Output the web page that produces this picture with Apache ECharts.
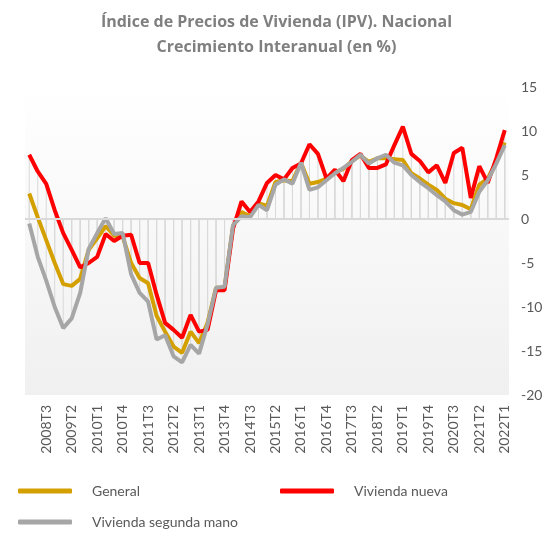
<!DOCTYPE html>
<html>
<head>
<meta charset="utf-8">
<script src="https://cdn.jsdelivr.net/npm/echarts@6/dist/echarts.min.js"></script>
<style>
  html, body { margin: 0; padding: 0; background: #fff; }
  #chart { width: 553px; height: 533px; }
</style>
</head>
<body>
<div id="chart"></div>
<script>
// trimestres 2008T1 .. 2022T1
const years = [];
for (let y = 2008; y <= 2022; y++) years.push(y);
const quarters = [];
years.forEach(y => {
  for (let q = 1; q <= 4; q++) {
    if (y === 2022 && q > 1) break;
    quarters.push(y + 'T' + q);
  }
});

const general = [
  2.9, 0.2, -2.4, -5.0, -7.4, -7.6, -6.8, -3.5, -2.2, -0.8,
  -1.9, -2.0, -5.0, -6.7, -7.3, -11.0, -12.8, -14.5, -15.2, -12.8,
  -14.1, -11.8, -7.8, -7.8, -0.8, 0.8, 0.3, 1.8, 1.5, 4.2,
  4.4, 4.3, 6.4, 4.0, 4.2, 4.6, 5.3, 5.7, 6.6, 7.2,
  6.5, 6.9, 6.9, 6.8, 6.7, 5.2, 4.6, 3.9, 3.3, 2.3,
  1.8, 1.6, 1.1, 3.9, 4.6, 6.5, 8.7
];
const nueva = [
  7.3, 5.4, 4.0, 1.0, -1.6, -3.5, -5.5, -5.0, -4.3, -1.7,
  -2.5, -1.9, -1.8, -5.0, -5.0, -8.6, -11.8, -12.6, -13.5, -10.9,
  -12.8, -12.6, -8.1, -8.1, -1.1, 2.0, 0.8, 2.0, 4.1, 5.0,
  4.5, 5.8, 6.3, 8.5, 7.4, 4.6, 5.6, 4.3, 6.7, 7.4,
  5.8, 5.8, 6.2, 8.4, 10.5, 7.4, 6.6, 5.3, 6.1, 4.1,
  7.5, 8.1, 2.4, 6.0, 4.1, 6.9, 10.1
];
const segunda = [
  -0.5, -4.3, -7.0, -10.0, -12.4, -11.3, -8.4, -3.4, -1.6, 0.1,
  -1.7, -1.6, -6.3, -8.4, -9.4, -13.7, -13.2, -15.6, -16.3, -14.3,
  -15.3, -12.0, -7.8, -7.7, -0.7, 0.3, 0.2, 1.6, 1.0, 3.9,
  4.5, 4.0, 6.4, 3.3, 3.6, 4.4, 5.2, 5.8, 6.5, 7.3,
  6.3, 6.9, 7.3, 6.4, 6.1, 5.0, 4.2, 3.5, 2.7, 2.0,
  1.0, 0.5, 0.8, 3.1, 4.4, 6.3, 8.4
];

const FONT = 'Lato';
const TXT = '#595959';

let chartObj = echarts.init(document.getElementById('chart'));

// lineas de caida (drop lines) hasta el eje
function dropLine(name, data) {
  return {
    name: name,
    type: 'bar',
    data: data,
    barWidth: 1,
    barGap: '-100%',
    itemStyle: { color: '#d9d9d9' },
    silent: true,
    z: 1
  };
}

function serie(name, data, color) {
  return {
    name: name,
    type: 'line',
    data: data,
    symbol: 'none',
    lineStyle: { color: color, width: 4 },
    itemStyle: { color: color },
    z: 3
  };
}

function legendAt(name, left, top) {
  return {
    data: [name],
    left: left,
    top: top,
    itemWidth: 54,
    itemHeight: 5,
    icon: 'roundRect',
    selectedMode: false,
    textStyle: { fontFamily: FONT, fontSize: 14, color: TXT, padding: [0, 0, 0, 15] }
  };
}

let options = {
  animation: false,
  title: {
    text: 'Índice de Precios de Vivienda (IPV). Nacional\nCrecimiento Interanual (en %)',
    left: 'center',
    top: 5,
    textStyle: {
      fontFamily: 'Open Sans',
      fontSize: 16,
      fontWeight: 'bold',
      color: '#7f7f7f',
      lineHeight: 25
    }
  },
  legend: [
    legendAt('General', 13, 479),
    legendAt('Vivienda nueva', 275, 479),
    legendAt('Vivienda segunda mano', 13, 510)
  ],
  grid: {
    left: 25,
    right: 44,
    top: 87,
    bottom: 138,
    show: true,
    borderWidth: 0,
    backgroundColor: new echarts.graphic.LinearGradient(0, 0, 0, 1, [
      { offset: 0, color: '#ffffff' },
      { offset: 1, color: '#f0f0f0' }
    ])
  },
  xAxis: {
    type: 'category',
    data: quarters,
    boundaryGap: true,
    axisLine: { show: false, onZero: false },
    axisTick: { show: false },
    axisLabel: {
      rotate: 90,
      margin: 10,
      interval: (i) => i % 3 === 2,
      fontFamily: FONT,
      fontSize: 14,
      color: TXT
    }
  },
  yAxis: {
    type: 'value',
    position: 'right',
    min: -20,
    max: 15,
    interval: 5,
    splitLine: { show: false },
    axisLine: { show: false },
    axisTick: { show: false },
    axisLabel: { margin: 12, fontFamily: FONT, fontSize: 14, color: TXT }
  },
  series: [
    Object.assign(dropLine('dl_general', general), {
      markLine: {
        silent: true,
        symbol: 'none',
        label: { show: false },
        lineStyle: { color: '#d9d9d9', width: 2, type: 'solid' },
        data: [{ yAxis: 0 }]
      }
    }),
    dropLine('dl_nueva', nueva),
    dropLine('dl_segunda', segunda),
    serie('General', general, '#D4A000'),
    serie('Vivienda nueva', nueva, '#FF0000'),
    serie('Vivienda segunda mano', segunda, '#A6A6A6')
  ]
};

chartObj.setOption(options);
</script>
</body>
</html>
